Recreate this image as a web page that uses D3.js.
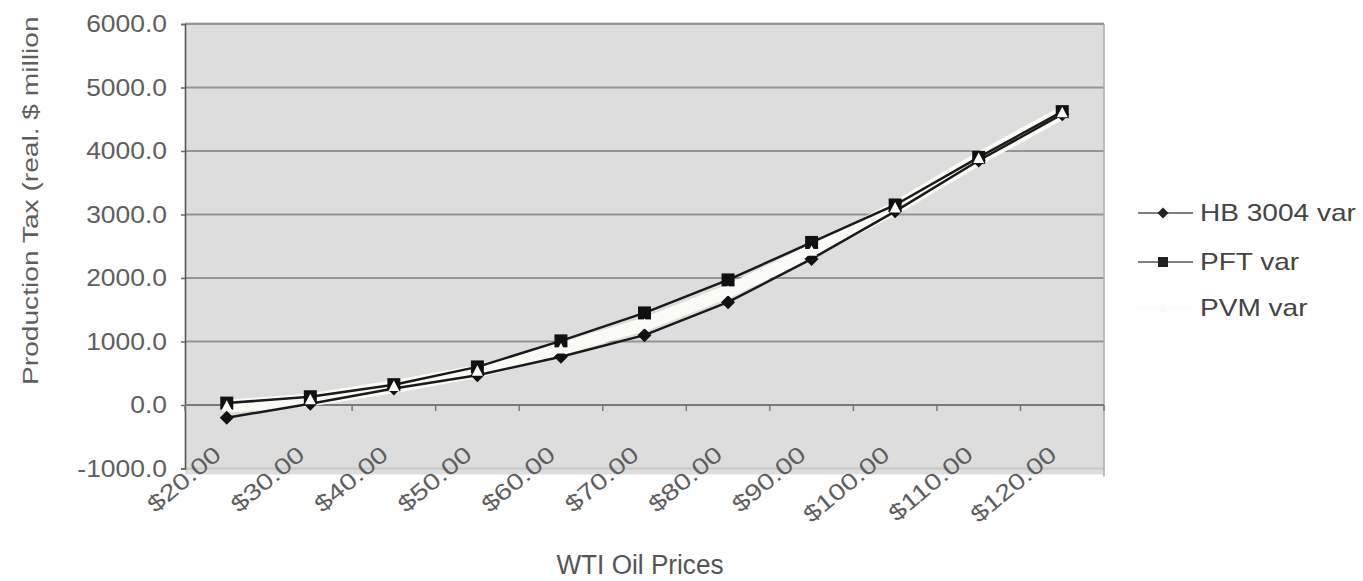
<!DOCTYPE html>
<html>
<head>
<meta charset="utf-8">
<script src="https://cdn.jsdelivr.net/npm/d3@7"></script>
<style>
  html, body { margin: 0; padding: 0; background: #ffffff; }
  svg { display: block; }
  text { font-family: "Liberation Sans", Arial, sans-serif; }
</style>
</head>
<body>
<svg id="chart" width="1363" height="581"></svg>
<script>
// WTI price scenarios on the category axis
const categories = ["$20.00", "$30.00", "$40.00", "$50.00", "$60.00", "$70.00",
                    "$80.00", "$90.00", "$100.00", "$110.00", "$120.00"];

// Production tax by scenario (real $ million)
const hb3004 = [-200, 20, 260, 470, 760, 1100, 1620, 2300, 3050, 3850, 4580];
const pft    = [30, 130, 320, 600, 1010, 1450, 1970, 2560, 3150, 3900, 4620];
const pvm    = [-20, 80, 290, 530, 880, 1270, 1790, 2420, 3100, 3880, 4600];

const seriesNames = ["HB 3004 var", "PFT var", "PVM var"];

const yTicks = [-1000, 0, 1000, 2000, 3000, 4000, 5000, 6000];

const svg = d3.select("#chart");

const plot = { left: 185, right: 1104, top: 24, bottom: 468.5 };

const x = d3.scalePoint()
  .domain(categories)
  .range([plot.left, plot.right])
  .padding(0.5);

const y = d3.scaleLinear()
  .domain([-1000, 6000])
  .range([plot.bottom, plot.top]);

// plot area background
svg.append("rect")
  .attr("x", plot.left).attr("y", plot.top - 2)
  .attr("width", plot.right - plot.left)
  .attr("height", plot.bottom - plot.top + 8)
  .attr("fill", "#dddddd");

// horizontal gridlines
svg.append("g")
  .selectAll("line")
  .data(yTicks)
  .join("line")
  .attr("x1", plot.left).attr("x2", plot.right)
  .attr("y1", d => y(d)).attr("y2", d => y(d))
  .attr("stroke", d => d === -1000 ? "#c8c8c8" : "#959595")
  .attr("stroke-width", 2);

// right border of plot area
svg.append("line")
  .attr("x1", plot.right).attr("x2", plot.right)
  .attr("y1", plot.top).attr("y2", plot.bottom + 8)
  .attr("stroke", "#ababab").attr("stroke-width", 1.5);

// value axis
const yAxis = d3.axisLeft(y)
  .tickValues(yTicks)
  .tickSize(4)
  .tickFormat("");
const yAxisG = svg.append("g")
  .attr("transform", `translate(${plot.left},0)`)
  .call(yAxis);
yAxisG.select(".domain").attr("stroke", "#555").attr("stroke-width", 1.6);
yAxisG.selectAll(".tick line").attr("stroke", "#666").attr("stroke-width", 1.5);

// value tick labels, one decimal with a plain hyphen for negatives
const fmt = d => (d < 0 ? "-" : "") + Math.abs(d).toFixed(1);
svg.append("g")
  .selectAll("text")
  .data(yTicks)
  .join("text")
  .attr("transform", d => `translate(167,${y(d) + 8}) scale(1.15,1)`)
  .attr("text-anchor", "end")
  .attr("font-size", 23)
  .attr("fill", "#5e5e5e")
  .text(fmt);

// category axis crossing at zero, with ticks between categories
const step = x.step();
const boundaries = d3.range(categories.length + 1).map(i => plot.left + i * step);
svg.append("line")
  .attr("x1", plot.left).attr("x2", plot.right)
  .attr("y1", y(0)).attr("y2", y(0))
  .attr("stroke", "#7a7a7a").attr("stroke-width", 2);
svg.append("g")
  .selectAll("line")
  .data(boundaries)
  .join("line")
  .attr("x1", d => d).attr("x2", d => d)
  .attr("y1", y(0)).attr("y2", y(0) + 6)
  .attr("stroke", "#777").attr("stroke-width", 1.5);

// category labels at the low position, rotated
svg.append("g")
  .selectAll("text")
  .data(categories)
  .join("text")
  .attr("transform", d => `translate(${x(d) - 4},457) rotate(-40) scale(1.25,1)`)
  .attr("text-anchor", "end")
  .attr("font-size", 23)
  .attr("fill", "#5e5e5e")
  .text(d => d);

// axis titles
svg.append("text")
  .attr("transform", "translate(640,574) scale(0.97,1)")
  .attr("text-anchor", "middle")
  .attr("font-size", 27)
  .attr("fill", "#555")
  .text("WTI Oil Prices");

svg.append("text")
  .attr("transform", "translate(38,385) rotate(-90) scale(1.28,1)")
  .attr("text-anchor", "start")
  .attr("font-size", 22)
  .attr("fill", "#5e5e5e")
  .text("Production Tax (real. $ million");

// marker shapes
const markerPath = {
  diamond: r => `M0,${-r}L${r},0L0,${r}L${-r},0Z`,
  square: r => `M${-r},${-r}H${r}V${r}H${-r}Z`,
  triangle: r => `M0,${-r * 1.1}L${r},${r * 0.8}L${-r},${r * 0.8}Z`
};

const series = [
  { name: seriesNames[0], values: hb3004, color: "#1a1a1a", width: 2.5, marker: "diamond", size: 7, fill: "#111" },
  { name: seriesNames[1], values: pft, color: "#1a1a1a", width: 2.5, marker: "square", size: 6.5, fill: "#111" },
  { name: seriesNames[2], values: pvm, color: "#fbfbf6", width: 13, marker: "triangle", size: 5.5, fill: "#fbfbf6" }
];

const line = d3.line()
  .x((d, i) => x(categories[i]))
  .y(d => y(d));

// light PVM line sits underneath, the dark series on top, then all markers
const lineLayer = svg.append("g");
const markLayer = svg.append("g");
[series[2], series[0], series[1]].forEach(s => {
  lineLayer.append("path")
    .datum(s.values)
    .attr("d", line)
    .attr("fill", "none")
    .attr("stroke", s.color)
    .attr("stroke-width", s.width)
    .attr("stroke-linejoin", "round");
});
series.forEach(s => {
  markLayer.append("g")
    .selectAll("path")
    .data(s.values)
    .join("path")
    .attr("transform", (d, i) => `translate(${x(categories[i])},${y(d)})`)
    .attr("d", markerPath[s.marker](s.size))
    .attr("fill", s.fill);
});

// legend
const legend = svg.append("g");
const legendRows = [213, 262, 308];
series.forEach((s, i) => {
  const row = legend.append("g").attr("transform", `translate(0,${legendRows[i]})`);
  row.append("line")
    .attr("x1", 1138).attr("x2", 1193)
    .attr("y1", 0).attr("y2", 0)
    .attr("stroke", i < 2 ? "#555" : "#fbfbf6")
    .attr("stroke-width", 1.5);
  row.append("path")
    .attr("transform", "translate(1163,0)")
    .attr("d", markerPath[s.marker](i === 0 ? 5.5 : 5))
    .attr("fill", i < 2 ? "#222" : "#fbfbf6");
  row.append("text")
    .attr("transform", "translate(1200,8) scale(1.22,1)")
    .attr("font-size", 23)
    .attr("fill", "#444")
    .text(s.name);
});
</script>
</body>
</html>
